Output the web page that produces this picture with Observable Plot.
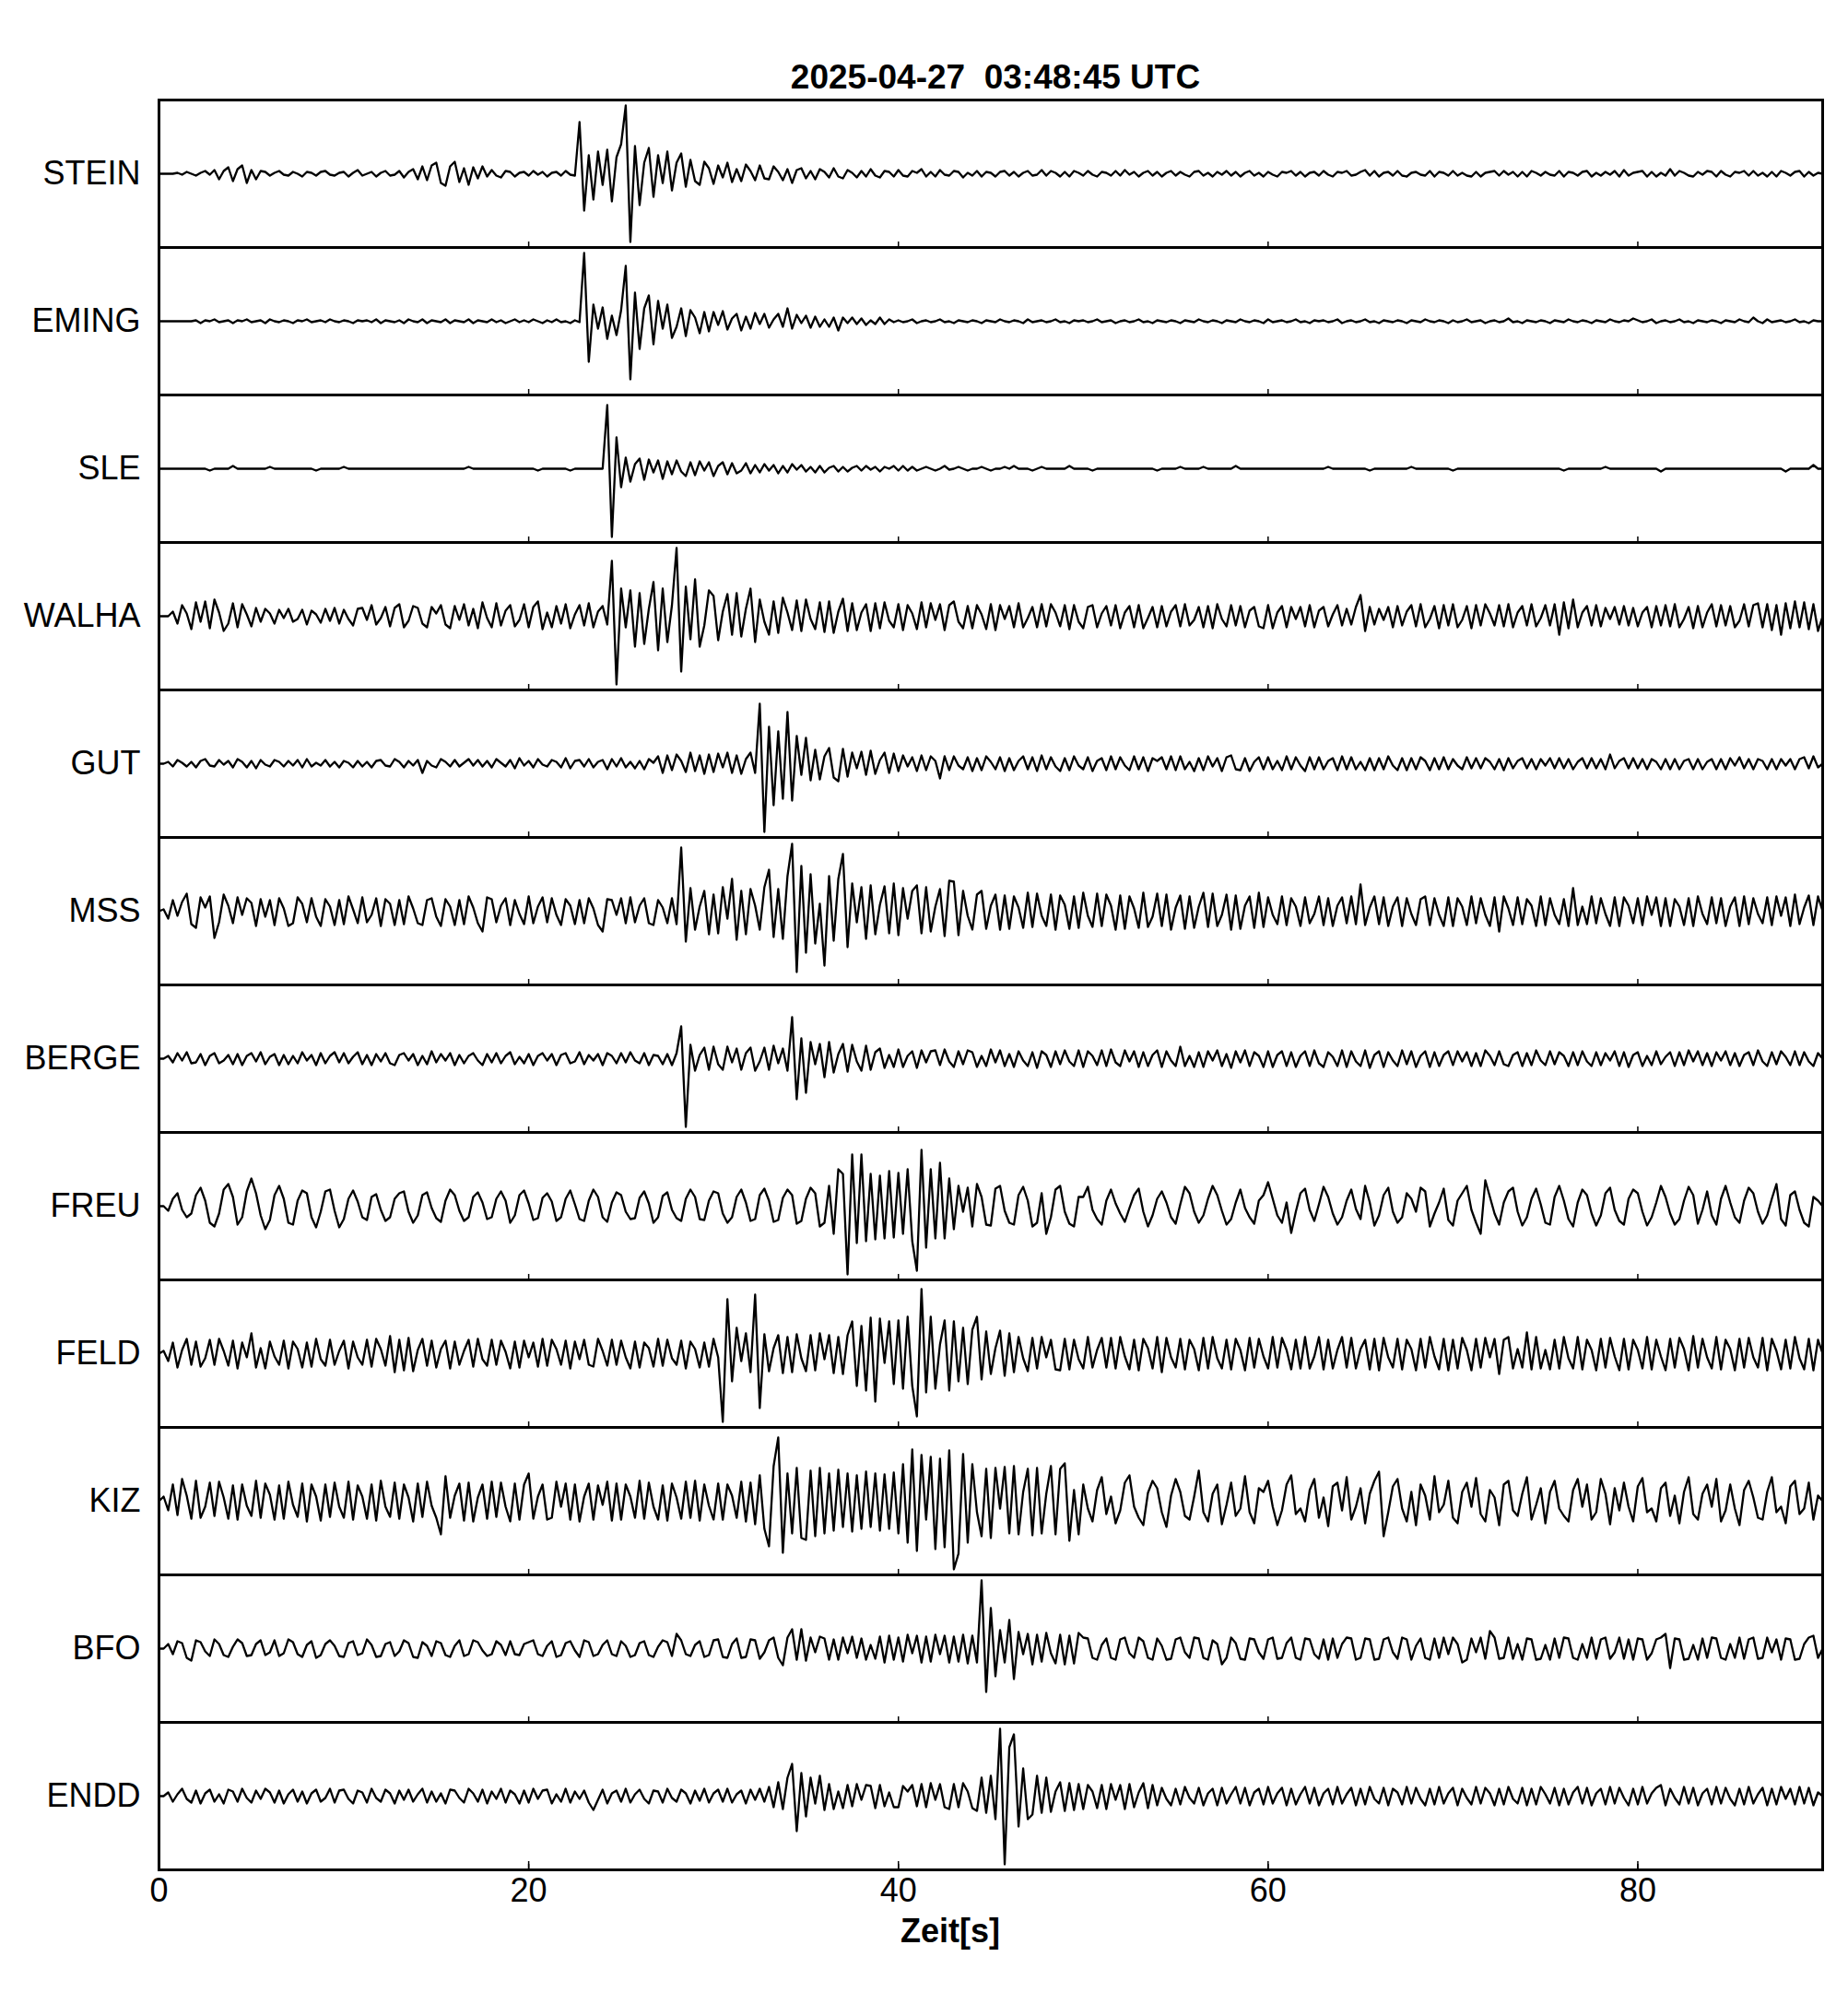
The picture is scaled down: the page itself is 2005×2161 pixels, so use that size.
<!DOCTYPE html>
<html><head><meta charset="utf-8">
<script src="https://cdn.jsdelivr.net/npm/d3@7"></script>
<script src="https://cdn.jsdelivr.net/npm/@observablehq/plot@0.6"></script>
<style>
body{margin:0;background:#fff;}
#wrap{position:relative;width:2005px;height:2161px;font-family:"Liberation Sans",Arial,Helvetica,sans-serif;}
#wrap svg{position:absolute;left:0;top:0;}
#title{position:absolute;left:580px;width:1000px;top:65px;text-align:center;font-weight:bold;font-size:37px;line-height:37px;white-space:pre;color:#000;}
#xlabel{position:absolute;left:831px;width:400px;top:2077px;text-align:center;font-weight:bold;font-size:36px;line-height:36px;color:#000;}
</style></head>
<body><div id="wrap"></div>
<script>
const title = "2025-04-27  03:48:45 UTC";
const xLabel = "Zeit[s]";
const stations = ["STEIN","EMING","SLE","WALHA","GUT","MSS","BERGE","FREU","FELD","KIZ","BFO","ENDD"];
const xTicks = [0,20,40,60,80];
const sampleStep = 0.25; // seconds between values

const STEIN = [
0,0,0,0, 1,-1,2,0, -2,1,3,-1, 4,-6,3,7, -8,5,9,-10, 4,-6,3,2, -2,1,3,-1, -2,2,0,-3, 2,1,-2,2, 3,-1,-2,1,
2,-3,1,4, -2,0,2,-3, 1,3,-2,-1, 3,-4,2,5, -6,8,-7,9, 12,-10,-13,8, 13,-9,6,-12, 7,-5,8,-3, 4,-2,-4,3, 2,-3,1,2,
-2,3,-1,2, -3,1,2,-2, 3,-1,-2,56, -40,20,-28,24, -12,26,-30,18, 32,74,-74,30, -34,12,28,-25, 20,-10,24,-18, 12,22,-14,15, -8,-12,13,6,
-11,9,-4,12, -9,5,-8,10, 3,-7,9,-5, -6,8,2,-7, 5,-10,4,6, -5,3,-6,5, 2,-4,6,-3, -5,4,1,-4, 3,-3,5,-2, -4,3,2,-3,
4,-2,-3,3, 1,5,-3,2, -3,4,-1,-2, 3,2,-4,1, -2,3,-3,2, 1,-3,2,3, -2,2,-3,1, 3,-2,-1,4, -2,3,1,-3, 2,-3,3,1,
-2,3,-1,-3, 2,1,-2,3, -2,4,-1,2, -3,1,3,-2, 2,-3,1,3, -2,2,-1,-3, 2,3,-2,1, -3,2,-1,3, -2,2,-3,1, 3,-2,1,-3,
2,-1,-3,2, 1,3,-2,2, -3,1,2,-2, 3,-1,-3,2, 1,3,-2,-1, 2,4,-2,3, -3,1,2,-2, 3,-2,-3,1, 2,-1,-2,3, -3,2,1,-2,
3,-2,1,-2, -3,2,-3,1, 2,3,-2,3, -1,2,-3,2, -3,3,1,-2, 2,-1,-2,3, -3,2,1,-2, 2,3,-3,1, -2,2,-1,3, -3,4,-2,1,
2,3,-3,2, -3,1,-2,5, -2,3,1,-2, -3,2,-1,3, 2,-3,3,-1, -3,2,1,3, -2,3,-2,1, -3,2,-3,3, 1,-2,2,3, -3,2,-2,1,
0];

const EMING = [
0,0,0,0, 0,0,0,0, 1,-2,1,0, 2,-1,0,1, -2,1,0,2, -1,0,1,-2, 2,0,-1,1, 0,-2,1,0, 2,-1,0,1, -1,2,0,-1,
1,0,-2,1, 0,1,-1,2, -2,1,0,-1, 1,-2,2,0, -1,2,-2,1, 0,-1,2,-2, 1,0,-1,2, -2,1,0,-1, 2,-1,1,-2, 0,2,-1,1,
-1,2,0,-2, 1,-1,2,-1, 0,-2,1,-1, 74,-44,18,-8, 15,-19,6,-15, 12,60,-63,31, -30,14,28,-25, 22,-8,18,-18, -6,14,-16,12, 4,-13,10,-11,
10,-4,11,-9, 3,8,-10,5, -8,9,-3,8, -7,2,8,-6, 14,-8,7,-2, 6,-7,5,-6, 2,-6,4,-10, 4,-2,4,-3, 3,-4,1,-3, 4,-3,2,-1,
1,-1,0,2, -2,0,1,-1, 0,2,-1,0, -2,1,0,-1, 1,0,-2,1, 0,-1,2,0, -1,1,0,-2, 2,-1,0,1, -1,0,2,-1, 0,-2,1,0,
1,-1,0,2, -1,0,1,-2, 0,1,-1,0, 2,-1,0,-2, 1,0,-1,1, 0,-2,1,0, -1,2,0,-1, 1,0,-2,1, 0,-1,2,0, -1,1,0,-2,
2,-1,0,1, -1,0,2,-1, 0,-2,1,0, 1,-1,0,2, -2,0,1,-1, 0,2,-1,0, -2,1,0,-1, 1,0,-2,1, 0,-1,2,0, -1,1,0,-2,
1,-1,0,2, -1,0,1,-2, 0,1,-1,0, 3,-1,0,-2, 1,0,-1,1, 0,-2,1,0, -1,2,0,-1, 1,0,-2,1, 0,-1,2,0, -1,1,0,3,
1,-1,0,2, -2,0,1,-1, 0,2,-1,0, -2,1,0,-1, 1,0,-2,1, 0,-1,2,0, -1,4,0,-2, 2,-1,0,1, -1,0,2,-1, 0,-2,1,0,
0];

const SLE = [
0,0,0,0, 0,0,0,0, 0,0,0,-2, 0,0,0,0, 3,0,0,0, 0,0,0,0, 2,0,0,0, 0,0,0,0, 0,0,-2,0, 0,0,0,0,
2,0,0,0, 0,0,0,0, 0,0,0,0, 0,0,0,0, 0,0,0,0, 0,0,0,0, 0,0,0,2, 0,0,0,0, 0,0,0,0, 0,0,0,0,
0,0,-2,0, 0,0,0,0, 0,-2,0,0, 0,0,0,0, 0,69,-74,34, -20,12,-14,5, 11,-12,10,-4, 9,-11,8,-6, 9,-3,-8,7, -7,8,-2,7,
-8,3,7,-6, 6,-5,-2,6, -5,4,-4,5, -2,4,-5,3, -4,5,-1,4, -3,2,-4,3, -4,1,3,-3, 2,-3,1,3, -2,3,-1,2, -3,2,0,3,
-2,3,-2,2, -2,0,2,0, -2,0,3,-1, 0,2,0,-2, 0,0,2,0, -2,0,0,2, 0,3,0,0, 0,-2,0,2, 0,0,0,0, 0,3,0,0,
0,0,-2,0, 0,0,0,0, 0,0,0,0, 0,0,0,0, -2,0,0,0, 0,2,0,0, 0,0,2,0, 0,0,0,0, 0,3,0,0, 0,0,0,0,
0,0,0,0, 0,0,0,0, 0,0,0,0, 0,2,0,0, 0,0,0,0, 0,0,-2,0, 0,0,0,0, 0,0,0,2, 0,0,0,0, 0,0,0,0,
-2,0,0,0, 0,0,0,0, 0,0,0,0, 0,0,0,0, 0,0,0,0, 0,0,0,0, -2,0,0,0, 0,0,0,0, 0,2,0,0, 0,0,0,0,
0,0,0,0, 0,-3,0,0, 0,0,0,0, 0,0,0,0, 0,0,0,0, 0,0,0,0, 0,0,0,0, 0,0,0,0, -3,0,0,0, 0,0,4,0,
0];

const WALHA = [
0,0,0,5, -8,12,3,-14, 15,-6,16,-13, 18,4,-16,-8, 14,-12,13,2, -11,9,-6,8, 3,-8,7,-2, 8,-6,-3,7, -9,6,2,-7, 8,-5,9,-8,
7,-3,-10,8, 9,-4,12,-9, -2,10,-11,9, 13,-12,-5,11, 9,-8,-12,10, 3,12,-9,-13, 11,-4,13,-10, 8,-13,15,-2, -12,14,-10,6, 12,-11,-4,13,
-12,10,16,-14, 4,-12,11,-8, 13,-13,2,12, -10,14,-12,5, 11,-9,60,-74, 30,-12,28,-33, 25,-30,8,37, -37,30,-28,12, 74,-60,32,-25, 40,-33,-10,28,
22,-26,5,24, -20,25,-22,8, 30,-28,18,-6, -20,16,-18,20, 4,-15,17,-16, 18,-3,-14,15, -17,16,-18,5, 19,-16,14,-15, 4,13,-16,14, -13,15,-5,-12,
13,-15,12,3, -14,15,-12,14, -4,13,-15,12, 16,-6,-13,11, -13,12,2,-14, 13,-15,12,-3, 11,-12,14,-12, -2,10,-12,13, -11,13,4,-11, 12,-14,12,-6,
-13,10,12,-12, 3,11,-10,12, -13,4,11,-12, 12,-13,-2,10, -12,11,-11,5, 12,-11,13,-10, -4,10,-12,11, -13,13,-3,-11, 12,-10,11,-12, 6,10,-11,-13,
12,-13,4,11, -12,10,-3,10, -11,12,-12,6, 10,-11,2,12, -10,8,-9,10, 23,-16,10,-9, 8,-4,10,-12, 11,-10,5,12, -11,13,-12,-3, 11,-13,12,-10,
13,-12,-4,11, -13,12,-10,13, 3,-10,12,-11, 13,-12,4,11, -10,13,-11,-2, 12,-10,13,-20, 15,-13,18,-12, 4,11,-10,12, -11,9,-3,10, -9,11,-10,9,
-11,4,10,-12, 11,-10,12,-11, 13,-12,-3,10, -13,11,-12,4, 13,-11,12,-10, 11,-12,-5,13, -11,12,14,-12, 13,-15,12,-20, 14,-13,16,-12, 15,-14,13,-16,
0];

const GUT = [
0,0,2,-3, 4,1,-3,2, -4,3,5,-2, -3,4,-1,3, -4,5,2,-4, 3,-5,4,-1, -3,4,2,-3, 3,-2,4,-4, 5,-3,1,-2, 4,-3,2,-4,
3,1,-4,3, -3,2,-4,3, 4,-2,-3,5, 2,-4,3,-2, 4,-10,3,-2, -4,5,2,-3, 4,-3,1,5, -2,4,-3,3, -4,5,1,-3, 4,-5,6,-2,
3,-4,5,-1, -3,4,2,-4, 6,-5,3,4, -3,5,-4,2, 4,-6,5,-3, 6,-4,2,-5, 3,-6,5,1, 8,-10,9,-7, 10,3,-9,12, -8,9,-11,10,
-9,11,-4,12, -10,9,-11,5, 12,-10,65,-74, 40,-45,35,-38, 56,-40,30,-12, 28,-18,15,-17, 8,17,-15,-19, 16,-14,12,-5, 13,-12,14,-11, 4,12,-10,11,
-8,9,-3,7, -8,9,-7,8, 3,-16,8,-7, 8,-2,-6,7, -8,6,-7,8, 2,-6,7,-8, 6,-7,3,8, -6,7,-8,9, -6,7,-3,-8, 6,-7,8,-2,
-6,7,-8,3, 6,-7,8,-6, 7,-2,-7,8, -6,7,-8,6, 3,7,-6,8, -7,8,-6,2, -8,6,-7,8, -3,6,-8,7, 9,-6,-7,6, -8,2,7,-6,
7,-6,3,-7, 8,-6,7,-2, -8,7,-6,7, -6,3,6,-7, 8,-6,7,-6, 2,-7,6,-7, 6,-6,8,-2, -7,6,-7,6, -6,7,3,-7, 6,-6,7,-6,
5,-2,-6,7, -5,6,-5,6, 2,-6,5,-7, 6,-5,3,6, -5,5,-6,5, -2,6,-5,6, -5,5,-6,2, 6,-5,6,-5, 5,-6,10,-5, 3,6,-5,6,
-5,5,-6,5, 2,-6,5,-6, 5,-6,3,5, -6,5,-6,2, 5,-6,5,-6, 6,-2,7,-5, 5,-6,5,3, -6,5,-6,5, -2,5,-6,5, 7,-5,8,-4,
0];

const MSS = [
0,2,-8,12, -5,10,19,-14, -18,15,4,16, -29,-12,18,6, -13,15,-4,14, 9,-16,13,-6, 12,-15,14,3, -16,-13,15,8, -12,14,-6,-16, 13,5,-15,12,
-14,16,2,-13, 15,-12,-4,14, -16,13,8,-15, 12,-14,16,3, -13,-15,12,14, -6,-16,13,5, -15,12,-14,16, 4,-13,-22,15, 13,-12,6,14, -15,12,-3,-14,
16,-13,5,15, -12,14,-4,-15, 13,6,-14,12, -13,14,3,-15, -22,13,12,-4, 14,-13,15,-12, 6,14,-13,-15, 12,4,-13,14, -14,69,-33,25, -20,5,22,-25,
18,-24,26,-8, 35,-31,22,-25, 24,6,-20,26, 45,-28,24,-30, 38,73,-66,49, -45,40,-35,8, -59,38,-32,35, 62,-39,30,-12, 26,-30,28,-25, 7,27,-24,30,
-26,25,-8,22, 28,-24,26,-22, 5,24,-27,33, 32,-26,22,-5, -20,18,22,-19, 6,18,-20,17, -19,16,4,-18, 20,-17,19,-5, -16,18,-20,17, 7,-19,16,-18,
20,-5,-17,19, -16,18,6,-20, 17,-19,16,3, -18,20,-17,-6, 19,-16,18,-20, 4,17,-19,16, -18,5,20,-17, 19,-16,-4,18, -20,17,-19,6, 16,-18,20,-17,
15,-4,-14,16, -15,14,5,-16, 15,-13,-3,16, -15,14,-16,6, 15,-13,16,-14, 29,-15,4,16, -14,15,-16,5, 15,-16,14,-3, -15,13,16,-15, 14,-4,-16,15,
-16,14,5,-15, 16,-13,14,-4, -16,15,-22,16, 3,-15,15,-14, 13,6,-16,16, -15,14,-4,-14, 13,-16,25,-15, 5,-14,16,-13, 14,-3,-16,15, -16,15,6,-13,
14,-15,16,-4, 15,-16,14,-16, 13,5,-15,14, -16,16,-3,-14, 15,-13,14,-16, 5,15,-16,16, -14,14,-3,-13, 15,-15,16,-5, 15,-16,18,-14, 4,17,-15,16,
0];

const BERGE = [
0,0,3,-4, 6,-2,7,-5, -4,5,-7,3, 6,-5,-2,4, -6,5,-7,3, 6,-3,7,-6, 2,5,-7,4, -6,3,-5,7, -2,4,-7,6, -5,3,7,-4,
6,-5,2,7, -6,4,-7,5, -3,6,-5,-7, 4,6,-2,5, -7,3,-6,8, -4,5,-2,6, -7,4,-5,3, 6,-2,-7,5, -4,6,-5,3, 7,-6,2,-5,
5,-7,3,6, -2,5,-7,4, 6,-5,-3,7, -6,4,-2,5, -7,6,3,-5, 6,-4,7,-2, -5,6,-7,4, 3,-6,5,-7, 6,35,-74,15, -13,4,12,-12,
13,-6,-12,13, -4,11,-12,6, 12,-13,-3,12, -12,14,-5,11, -13,45,-44,22, -37,18,-6,16, -20,18,-15,5, 16,-14,15,-3, -13,14,-12,7, 11,-10,4,-9,
10,-9,3,8, -10,9,-4,8, 9,-7,10,-3, -9,8,-6,9, 7,-9,3,-8, 10,-4,9,-8, 5,-9,8,-2, -8,7,-10,8, 4,-9,8,-6, 9,-3,-8,9,
-9,8,3,-7, 9,-8,10,-4, -8,9,-3,8, -9,7,-8,4, 9,-9,8,-2, -8,13,-8,3, -9,7,-9,8, -2,9,-8,5, -10,8,-4,9, -8,7,3,-9,
8,-9,4,8, -8,7,-9,3, 8,-8,9,-5, -9,7,2,-8, 9,-9,8,-3, -8,9,-10,4, 8,-9,7,-2, -8,9,-6,8, -9,3,8,-9, 7,-8,4,8,
-7,8,-3,7, -8,6,-8,9, 3,-7,8,-6, -8,4,7,-8, 6,-7,9,-2, -7,8,-6,7, 3,-8,7,-7, 8,-3,-8,7, -7,6,-2,8, -8,7,-9,4,
7,-8,3,-7, 8,-6,2,7, -8,7,-7,9, -3,8,-7,6, -8,7,-2,8, -7,6,-8,4, 7,-7,9,-3, -8,7,-6,8, 2,-7,8,-7, 7,-3,-8,6,
0];

const FREU = [
0,0,-5,8, 14,-4,-12,-8, 12,20,6,-18, -22,-8,18,24, 10,-20,-12,16, 30,14,-10,-25, -15,12,22,8, -18,-20,6,17, 14,-12,-23,-6, 16,18,-5,-23,
-14,8,17,5, -12,-15,10,13, -4,-16,-12,8, 14,16,-6,-18, -10,12,15,-2, -13,-17,6,18, 12,-5,-16,-12, 10,15,4,-14, -12,8,16,6, -18,-10,12,17,
3,-15,-13,9, 14,5,-16,-12, 8,17,2,-14, -16,6,18,10, -12,-17,4,15, 12,-6,-14,-13, 9,16,3,-18, -12,11,15,-4, -13,-16,8,18, 10,-14,-15,6,
16,14,-8,-18, -12,10,18,4, -16,-14,12,19, 6,-17,-15,9, 18,12,-19,-16, 8,20,14,-22, -18,22,-30,40, 35,-74,56,-40, 56,-38,35,-36, 33,-35,38,-34,
36,-30,40,-38, -70,61,-45,40, -35,47,-35,30, -25,22,-6,20, -22,24,10,-20, -21,19,22,-5, -18,-20,12,21, 6,-22,-18,14, -30,-12,18,22, -6,-19,-22,10,
10,21,-4,-14, -20,6,18,3, -8,-17,-2,12, 19,-6,-22,-10, 8,16,4,-12, -19,2,21,14, -6,-18,-10,8, 22,12,-5,-20, -14,4,18,-2, -12,-19,6,12,
26,8,-10,-18, 4,-29,-6,14, 19,-4,-16,2, 21,10,-8,-20, -12,6,18,-3, -14,22,4,-21, -10,12,20,-6, -18,-12,14,8, -6,20,16,-22, -8,4,19,-15,
-21,6,14,22, -4,-18,-30,28, 10,-8,-20,4, 16,20,-6,-21, -12,8,19,2, -18,-20,10,22, 6,-14,-22,4, 18,12,-8,-21, -10,14,20,-4, -16,-20,8,18,
14,-6,-21,-12, 4,22,10,-8, -20,-14,6,21, 12,-19,-4,16, -10,-20,8,22, 4,-12,-18,6, 20,14,-6,-19, -10,8,24,-14, -21,12,16,-4, -18,-22,10,6,
0];

const FELD = [
0,3,-8,12, -15,4,16,-12, 13,-14,-5,15, -12,16,3,-13, 14,-16,12,-4, 22,-15,6,-16, 13,-3,-12,14, -16,13,5,-15, 12,-14,16,-6, -13,15,-12,3,
14,-16,13,-4, -12,15,-14,16, 5,-13,19,-20, 15,-18,17,-19, 4,16,-13,14, -15,5,14,-16, 13,-12,3,15, -14,16,-6,-13, 15,-12,14,2, -16,13,-15,14,
-4,12,-14,16, -13,15,5,-12, 14,-16,13,-6, 15,-12,-14,16, 3,-13,15,-12, 14,-4,-16,13, -15,12,6,-14, 16,-13,15,-5, -12,14,-16,13, 5,-15,12,-14,
16,-4,-74,59, -30,28,-8,22, -20,64,-59,21, -19,6,20,-21, 18,-20,21,-5, -19,20,-18,22, -6,20,-21,18, -22,20,35,-35, 30,-40,39,-52, 38,-10,35,-33,
36,-38,40,-35, -68,70,-42,40, -38,10,36,-40, 35,-30,28,-33, 26,40,-28,24, -22,6,25,-24, 22,-20,18,-5, -19,17,-16,18, -4,15,-17,-18, 16,-17,15,-6,
-16,18,-15,4, 17,-15,17,-16, 18,-3,-17,15, -18,16,6,-16, 18,-20,17,-4, -15,16,-17,15, 5,-18,17,-16, 18,-5,-16,15, -17,16,4,-18, 17,-15,16,-3,
-16,18,-15,17, 4,-17,15,-16, 18,-16,-3,18, -17,15,-16,4, 18,-15,17,-16, 5,15,-17,16, -18,17,-4,-15, 16,-17,15,5, -18,16,-15,18, -3,-17,16,-18,
15,-16,17,4, -18,16,-15,17, -4,16,-22,15, 18,-16,5,-15, 23,-17,18,-16, 4,-17,15,-16, 18,-5,-16,18, -17,15,4,-18, 16,-15,17,-3, -18,16,-17,15,
4,-16,18,-17, 15,-3,-18,16, -15,17,5,-18, 19,-15,16,-4, -16,18,-17,15, 5,-18,16,-15, 17,-4,-15,17, -18,16,3,-17, 15,-16,18,-5, -17,16,-18,15,
0];

const KIZ = [
0,5,-10,18, -15,24,6,-19, 22,-18,-6,20, -16,21,4,-19, 17,-20,18,-5, -16,22,-18,19, 7,-20,17,-19, 21,-4,-17,19, -22,18,5,-21, 18,-17,20,-6,
-18,21,-20,17, 5,-19,18,-21, 22,-6,-17,20, -19,18,4,-22, 19,-17,21,-5, -18,-36,27,-18, 6,19,-21,20, -22,4,18,-19, 21,-17,20,-6, -22,19,-20,18,
30,-19,5,18, -20,-18,21,-6, 19,-20,18,-22, 5,19,-20,17, -4,21,-21,19, -20,18,5,-18, 22,-19,20,-6, -20,17,-21,19, 4,-19,21,-18, 22,-21,18,-5,
-20,19,-20,18, 6,-18,21,-22, 20,-25,28,-30, -49,38,69,-56, 30,-35,36,-40, -42,33,-38,36, -35,30,-32,34, -28,30,-33,28, -30,32,-28,30, -32,29,-30,31,
-35,40,-45,56, -54,50,-20,48, -52,46,-50,55, -74,-57,51,-45, 40,-12,-38,35, -40,36,-8,37, -35,38,-36,10, 35,-37,36,-35, 8,38,-36,35, 41,-43,12,-36,
18,-8,-22,12, 26,-14,5,-24, -10,20,28,-6, -18,-26,9,22, 14,-12,-28,6, 24,10,-16,-20, 5,33,-12,-22, 8,18,-25,-4, 20,-16,-8,27, -12,-24,14,10,
22,-6,-26,-10, 18,28,-14,-8, -22,12,24,-18, 4,-27,16,20, -10,26,-20,-6, 14,-24,8,22, 32,-38,-12,16, 24,-8,-22,10, -26,18,6,-20, 27,-12,-4,22,
-18,-24,10,20, -6,25,-14,-22, 12,4,-26,18, 22,-10,-16,8, 26,-20,-4,14, -24,10,22,-8, -16,-22,12,24, -6,18,-20,-12, 24,8,-25,14, -10,20,-6,-22,
16,25,-12,-8, -22,14,20,-16, 6,-24,10,26, -14,-20,8,18, -6,24,-22,-10, 18,-8,-26,12, 22,4,-18,-20, 10,26,-12,-6, -24,16,22,-14, -8,20,-20,6,
0];

const BFO = [
0,0,5,-6, 8,6,-10,-13, 9,7,-3,-8, 10,5,-7,-9, 2,10,6,-8, -7,5,9,-7, -4,9,-8,-5, 10,7,-6,-9, 4,8,-10,-7, 5,9,3,-8,
-9,6,8,-7, -5,10,4,-9, -8,5,7,-8, -3,9,6,-9, -10,7,3,-8, 8,6,-7,-9, 3,9,-8,-6, 9,7,-2,-8, -6,8,4,-7, 8,-6,-7,5,
7,9,-6,-8, 3,8,-9,-7, 6,8,-2,-9, 9,7,-8,-6, 4,9,-6,-8, 8,3,-9,-7, 6,8,-7,-9, 2,9,7,-8, 16,9,-6,-8, 4,8,-9,-7,
9,10,-9,-10, 5,11,-10,-9, 10,9,-11,-4, 9,12,-10,-18, 12,21,-12,21, -13,12,-4,13, 11,-12,10,-12, 12,-5,13,-10, 11,-12,4,-11, 13,-15,14,-12,
12,-14,15,-5, 14,-15,13,-14, 15,-6,14,-15, 13,-14,15,-16, 14,-15,74,-47, 44,-30,20,-15, 31,-33,18,-6, 16,-17,15,-14, 17,-5,-16,15, -17,14,-16,17,
12,11,-10,-12, 4,11,-10,-12, 10,12,-5,-10, 12,8,-10,-12, 11,3,-12,-11, 10,12,-4,-10, 12,11,-10,-12, 9,5,-17,-10, 12,6,-11,-12, 11,10,-4,-11,
10,12,-11,-10, 6,12,-10,-12, 11,10,-6,-11, 10,-12,11,-10, 5,12,11,-12, -10,11,10,-12, -11,10,12,-4, -11,12,10,-12, 3,11,-10,-12, 11,-10,12,-6,
12,5,-15,-12, 11,-4,12,-11, 19,12,-11,-10, 12,-11,5,-12, 11,10,-12,-11, 4,-12,11,-10, 12,11,-10,-12, 5,-10,12,-11, 10,12,-11,-4, 12,-11,10,-12,
11,10,-12,-5, 10,12,16,-21, 11,10,-12,-11, 4,-12,11,-10, 12,11,-10,-12, 5,-10,12,-11, 10,12,-11,-10, 12,-4,10,-12, 11,10,-12,-11, 5,12,14,-10,
0];

const ENDD = [
0,0,4,-6, 2,8,-3,-7, 6,-8,3,7, -6,2,-8,7, 5,-6,8,-2, -7,6,-3,8, 4,-7,6,-8, 2,7,-6,5, -8,3,7,-6, -2,8,-7,6,
7,-3,-8,6, 4,-7,8,-2, -6,7,3,-8, 6,-4,7,-6, 2,8,-7,5, -6,3,-8,7, 6,-2,-7,8, 3,-6,7,-8, 5,-3,8,-7, 6,2,-8,6,
-7,8,-3,6, 7,-8,2,-6, 8,-7,5,-3, 6,-7,-15,-4, 7,-8,3,6, -6,8,-7,2, 7,-3,-8,6, 5,-7,8,-2, -6,7,3,-8, 6,-5,8,-7,
3,7,-6,8, -7,2,6,-8, 7,-4,8,-6, 10,-12,15,-14, 20,35,-38,25, -22,20,-8,22, -15,13,-14,5, -13,12,-11,13, -4,12,11,-13, 12,-11,4,-12,
-12,11,5,12, -11,13,-12,14, -4,13,-12,-14, 13,-12,14,5, -13,-16,20,-18, 22,-25,73,-74, 53,67,-33,30, -25,-20,22,-18, 20,-17,5,15, -16,14,-15,13,
-14,12,5,-13, 12,-14,13,-4, 12,-14,13,-12, 4,14,-13,12, -10,9,-3,-10, 8,-9,10,-2, -8,9,-10,3, 8,-10,9,-8, 2,10,-8,9, -10,4,8,-9,
10,-8,3,9, -10,8,-9,2, 10,-8,9,-10, 3,8,-9,10, -8,2,9,-10, 8,-9,10,-3, -8,9,-10,8, 4,-9,10,-8, 9,-3,-10,8, -9,10,-8,3,
9,-10,8,-2, -9,10,-8,9, 3,-10,8,-9, 10,-3,-8,9, -10,8,-9,10, 2,-8,9,-10, 8,-9,4,10, -8,9,-10,3, 8,-9,10,-8, 9,-2,-10,8,
-9,10,-8,3, 9,12,-10,8, -2,-9,10,-8, 9,-10,3,8, -9,10,-8,9, -3,-10,8,-9, 10,-8,2,9, -10,8,-9,10, -3,8,-9,10, -8,9,-10,4,
0];

const traces = [STEIN, EMING, SLE, WALHA, GUT, MSS, BERGE, FREU, FELD, KIZ, BFO, ENDD];
const bad = traces.map((tr, k) => [stations[k], tr.length]).filter(d => d[1] !== 361);
if (bad.length) throw new Error("length mismatch: " + JSON.stringify(bad));

const rows = stations.flatMap((s, k) => traces[k].map((a, i) => ({station: s, t: i * sampleStep, a})));
const bottomTicks = xTicks.map(t => ({t, station: stations[stations.length - 1]}));
const innerTicks = xTicks.filter(t => t > 0);

const chart = Plot.plot({
  width: 2005,
  height: 2161,
  marginLeft: 172,
  marginRight: 28,
  marginTop: 108,
  marginBottom: 133,
  style: {fontSize: "36px", fontFamily: "'Liberation Sans', Arial, Helvetica, sans-serif", color: "black", background: "white"},
  x: {domain: [0, 90]},
  y: {domain: [-80, 80], axis: null},
  fy: {domain: stations, padding: 0, axis: null},
  marks: [
    Plot.line(rows, {x: "t", y: "a", fy: "station", stroke: "black", strokeWidth: 2.3}),
    Plot.ruleX(innerTicks, {x: d => d, y1: -80, y2: -74, stroke: "black", strokeWidth: 1.5}),
    Plot.ruleX(bottomTicks, {x: "t", fy: "station", y1: -80, y2: -71, stroke: "black", strokeWidth: 1.5}),
    Plot.frame({stroke: "black", strokeWidth: 3}),
    Plot.axisFy({anchor: "left", tickSize: 0, tickPadding: 20, fontSize: 36, label: null}),
    Plot.axisX({anchor: "bottom", ticks: xTicks, tickSize: 0, tickPadding: 9, fontSize: 36, label: null, tickFormat: d => String(d)})
  ]
});

const wrap = document.getElementById("wrap");
wrap.appendChild(chart);
const t = document.createElement("div"); t.id = "title"; t.textContent = title; wrap.appendChild(t);
const xl = document.createElement("div"); xl.id = "xlabel"; xl.textContent = xLabel; wrap.appendChild(xl);
</script>
</body></html>
